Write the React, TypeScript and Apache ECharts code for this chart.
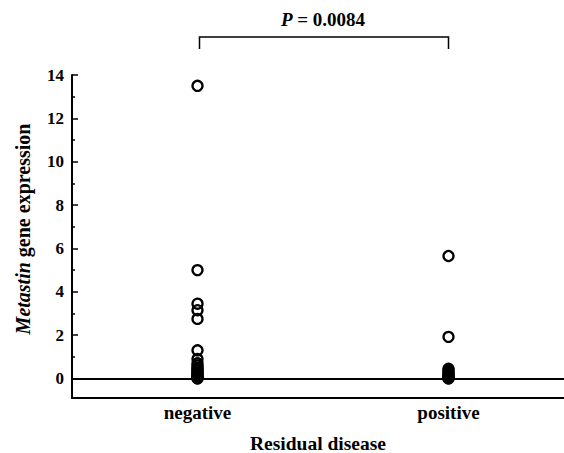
import React, { useEffect, useRef } from "react";
import * as echarts from "echarts";

const categories = ["negative", "positive"];
const negativeValues = [
  13.5, 5.0, 3.45, 3.15, 2.75, 1.3, 0.9, 0.7, 0.6, 0.5, 0.45, 0.38, 0.32, 0.26, 0.2, 0.15, 0.1, 0.07, 0.04, 0.02, 0.0,
];
const positiveValues = [5.65, 1.92, 0.45, 0.38, 0.3, 0.22, 0.15, 0.1, 0.05, 0.02, 0.0];
const yMajorTicks = [0, 2, 4, 6, 8, 10, 12, 14];
const yMinorTicks = [1, 3, 5, 7, 9, 11, 13];
const pText = "{i|P} = 0.0084";
const yTitle = "{i|Metastin} gene expression";
const xTitle = "Residual disease";

const FONT = "'Liberation Serif', 'Times New Roman', serif";

export default function App() {
  const ref = useRef<HTMLDivElement>(null);
  useEffect(() => {
    document.body.style.margin = "0";
    const chart = echarts.init(ref.current!, null, { renderer: "svg" });
    const data = [
      ...negativeValues.map((v) => [categories[0], v]),
      ...positiveValues.map((v) => [categories[1], v]),
    ];
    const yBase = {
      type: "value",
      min: -0.9,
      max: 14,
      position: "left",
      splitLine: { show: false },
    };
    chart.setOption({
      animation: false,
      backgroundColor: "#fff",
      grid: { left: 72, top: 75, width: 502, height: 323, outerBoundsMode: "none", containLabel: false },
      xAxis: {
        type: "category",
        data: categories,
        boundaryGap: true,
        axisLine: { onZero: false, lineStyle: { color: "#000", width: 2 } },
        axisTick: { inside: true, alignWithLabel: true, length: 5, lineStyle: { color: "#000", width: 1.5 } },
        axisLabel: { color: "#000", fontFamily: FONT, fontWeight: "bold", fontSize: 19, margin: 5 },
        splitLine: { show: false },
      },
      yAxis: [
        {
          ...yBase,
          axisLine: { show: true, lineStyle: { color: "#000", width: 2 } },
          axisTick: { show: true, inside: true, length: 6, customValues: yMajorTicks, lineStyle: { color: "#000", width: 1.5 } },
          axisLabel: {
            show: true,
            customValues: yMajorTicks,
            color: "#000",
            fontFamily: FONT,
            fontWeight: "bold",
            fontSize: 17,
            margin: 8,
          },
        },
        {
          ...yBase,
          axisLine: { show: false },
          axisTick: { show: true, inside: true, length: 3, customValues: yMinorTicks, lineStyle: { color: "#000", width: 1.5 } },
          axisLabel: { show: false },
        },
      ],
      series: [
        {
          type: "scatter",
          data,
          symbol: "circle",
          symbolSize: 10,
          itemStyle: { color: "rgba(0,0,0,0)", borderColor: "#000", borderWidth: 2.3, opacity: 1 },
          markLine: {
            silent: true,
            symbol: ["none", "none"],
            label: { show: false },
            lineStyle: { color: "#000", width: 2, type: "solid" },
            data: [{ yAxis: 0 }],
          },
        },
      ],
    });
    const x1 = chart.convertToPixel({ xAxisIndex: 0 }, categories[0]) as number;
    const x2 = chart.convertToPixel({ xAxisIndex: 0 }, categories[1]) as number;
    const yTop = 37;
    const yEnd = 49;
    chart.setOption({
      graphic: [
        {
          type: "polyline",
          shape: { points: [[x1 + 2, yEnd], [x1 + 2, yTop], [x2, yTop], [x2, yEnd]] },
          style: { stroke: "#000", lineWidth: 1.5, fill: "none" },
        },
        {
          type: "text",
          x: (x1 + x2) / 2,
          y: 19,
          style: {
            text: pText,
            textAlign: "center",
            textVerticalAlign: "middle",
            fill: "#000",
            font: `bold 19px ${FONT}`,
            rich: {
              i: { fontStyle: "italic", fontWeight: "bold", fontSize: 19, fontFamily: FONT, fill: "#000" },
            },
          },
        },
        {
          type: "text",
          x: 23,
          y: 229,
          rotation: Math.PI / 2,
          style: {
            text: yTitle,
            textAlign: "center",
            textVerticalAlign: "middle",
            fill: "#000",
            font: `bold 20px ${FONT}`,
            rich: {
              i: { fontStyle: "italic", fontWeight: "bold", fontSize: 20, fontFamily: FONT, fill: "#000" },
            },
          },
        },
        {
          type: "text",
          x: 318,
          y: 443,
          style: {
            text: xTitle,
            textAlign: "center",
            textVerticalAlign: "middle",
            fill: "#000",
            font: `bold 19.5px ${FONT}`,
          },
        },
      ],
    });
    return () => chart.dispose();
  }, []);
  return <div ref={ref} style={{ width: 564, height: 453 }} />;
}
